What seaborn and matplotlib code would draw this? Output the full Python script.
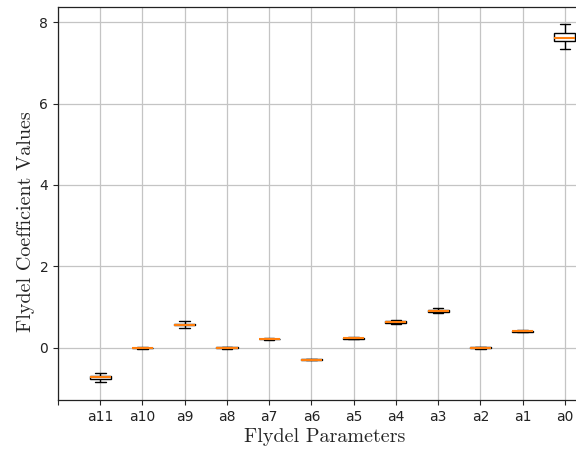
import matplotlib
matplotlib.use("Agg")
import matplotlib.pyplot as plt
import numpy as np
import pandas as pd
import seaborn as sns

# ======================== データ ========================
PARAMS = ["a11", "a10", "a9", "a8", "a7", "a6", "a5", "a4", "a3", "a2", "a1", "a0"]

# 各係数のサンプル値（下ひげ, Q1, 中央値, Q3, 上ひげ）
A11 = [-0.83, -0.76, -0.72, -0.69, -0.61]
A10 = [-0.03, -0.015, -0.01, -0.005, 0.01]
A9 = [0.48, 0.55, 0.57, 0.59, 0.66]
A8 = [-0.02, -0.01, 0.0, 0.01, 0.02]
A7 = [0.20, 0.21, 0.22, 0.23, 0.24]
A6 = [-0.31, -0.30, -0.29, -0.28, -0.27]
A5 = [0.22, 0.23, 0.24, 0.25, 0.26]
A4 = [0.58, 0.62, 0.64, 0.66, 0.68]
A3 = [0.85, 0.89, 0.91, 0.93, 0.97]
A2 = [-0.02, -0.01, 0.0, 0.01, 0.02]
A1 = [0.39, 0.40, 0.41, 0.42, 0.43]
A0 = [7.33, 7.53, 7.62, 7.72, 7.95]

SAMPLES = [A11, A10, A9, A8, A7, A6, A5, A4, A3, A2, A1, A0]
TICK_LABELS = [""] + PARAMS

# ======================== 描画 ========================
sns.set_style("ticks")
plt.rcParams["font.family"] = ["DejaVu Sans"]

df = pd.DataFrame(
    [(p, v) for p, vals in zip(PARAMS, SAMPLES) for v in vals],
    columns=["param", "value"],
)

fig = plt.figure(figsize=(5.76, 4.5), dpi=100)
ax = fig.add_axes([58 / 576, 1 - 400 / 450, 528 / 576, 393 / 450])

sns.boxplot(
    data=df,
    x="param",
    y="value",
    order=PARAMS,
    whis=(0, 100),
    width=0.5,
    color="white",
    linecolor="black",
    linewidth=1,
    medianprops={"color": "#ff7f0e", "linewidth": 1.5},
    ax=ax,
)

ax.set_xticks(np.arange(-1, len(PARAMS)))
ax.set_xticklabels(TICK_LABELS, fontsize=10, color="#222222")
ax.set_xlim(-1, len(PARAMS) - 0.5)
ax.set_ylim(-1.28, 8.37)
ax.set_yticks([0, 2, 4, 6, 8])
ax.tick_params(axis="y", labelsize=10, labelcolor="#222222")
ax.grid(True, color="#c4c4c4", linewidth=0.9)
ax.set_axisbelow(True)
for spine in ax.spines.values():
    spine.set_color("#222222")
    spine.set_linewidth(0.9)

ax.set_xlabel("Flydel Parameters", fontsize=14.5, family=["cmr10"], labelpad=3)
ax.set_ylabel("Flydel Coefficient Values", fontsize=14.5, family=["cmr10"], labelpad=3)
ax.yaxis.label.set_y(0.455)
ax.xaxis.label.set_x(0.505)

fig.savefig("out.png", dpi=100)
